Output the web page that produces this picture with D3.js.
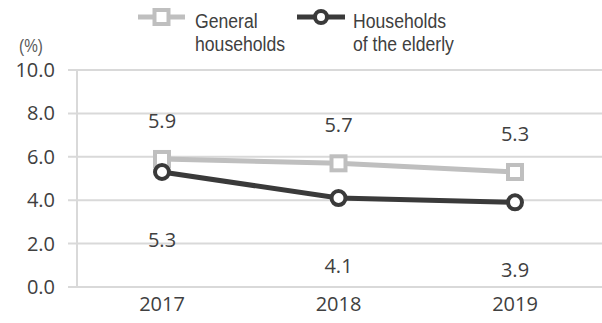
<!DOCTYPE html>
<html>
<head>
<meta charset="utf-8">
<script src="https://cdn.jsdelivr.net/npm/d3@7"></script>
<style>
body{margin:0;background:#fff;}
</style>
</head>
<body>
<svg id="chart" width="602" height="323"></svg>
<script>
var years = ["2017","2018","2019"];
var general = [5.9,5.7,5.3];
var elderly = [5.3,4.1,3.9];
var yTicks = [0,2,4,6,8,10];

var svg = d3.select("#chart");

var x = d3.scalePoint().domain(years).range([162,515]);
var y = d3.scaleLinear().domain([0,10]).range([287,70]);

var numFont = "Open Sans";
var legFont = "'Liberation Sans', sans-serif";

// gridlines
svg.selectAll(".grid")
    .data(yTicks)
    .enter().append("line")
    .attr("x1",68).attr("x2",602)
    .attr("y1",d => y(d)).attr("y2",d => y(d))
    .style("stroke","#d9d9d9").style("stroke-width",2);

svg.append("line")
    .attr("x1",77).attr("x2",77)
    .attr("y1",y(10)).attr("y2",y(0))
    .style("stroke","#d9d9d9").style("stroke-width",2);

// y tick labels
svg.selectAll(".ylab")
    .data(yTicks)
    .enter().append("text")
    .attr("x",55).attr("y",d => y(d)+7)
    .style("text-anchor","end")
    .style("font-family",numFont)
    .style("font-size","20px")
    .style("fill","#404040")
    .text(d => d.toFixed(1));

svg.append("text")
    .attr("transform","translate(31,52) scale(0.85,1)")
    .style("text-anchor","middle")
    .style("font-family",legFont)
    .style("font-size","18px")
    .style("fill","#595959")
    .text("(%)");

// x labels
svg.selectAll(".xlab")
    .data(years)
    .enter().append("text")
    .attr("x",d => x(d)).attr("y",311)
    .style("text-anchor","middle")
    .style("font-family",numFont)
    .style("font-size","20px")
    .style("fill","#404040")
    .text(d => d);

var line = d3.line().x((d,i) => x(years[i])).y(d => y(d));

svg.append("path").datum(general)
    .attr("d",line)
    .style("fill","none").style("stroke","#bfbfbf").style("stroke-width",5);

svg.append("path").datum(elderly)
    .attr("d",line)
    .style("fill","none").style("stroke","#3a3a3a").style("stroke-width",5);

svg.selectAll(".sq")
    .data(general)
    .enter().append("rect")
    .attr("x",(d,i) => x(years[i])-7).attr("y",d => y(d)-7)
    .attr("width",14).attr("height",14)
    .style("fill","#fff").style("stroke","#bfbfbf").style("stroke-width",4);

svg.selectAll(".dot")
    .data(elderly)
    .enter().append("circle")
    .attr("cx",(d,i) => x(years[i])).attr("cy",d => y(d))
    .attr("r",7)
    .style("fill","#fff").style("stroke","#3a3a3a").style("stroke-width",4);

// data labels
svg.selectAll(".glab")
    .data(general)
    .enter().append("text")
    .attr("x",(d,i) => x(years[i])).attr("y",d => y(d)-31)
    .style("text-anchor","middle")
    .style("font-family",numFont)
    .style("font-size","20px")
    .style("fill","#404040")
    .text(d => d.toFixed(1));

svg.selectAll(".elab")
    .data(elderly)
    .enter().append("text")
    .attr("x",(d,i) => x(years[i])).attr("y",d => y(d)+75)
    .style("text-anchor","middle")
    .style("font-family",numFont)
    .style("font-size","20px")
    .style("fill","#404040")
    .text(d => d.toFixed(1));

// legend
var legItems = [
    {lines:["General","households"], x1:138, x2:185, tx:195, color:"#bfbfbf", mark:"square"},
    {lines:["Households","of the elderly"], x1:297, x2:345, tx:353, color:"#3a3a3a", mark:"circle"}
];
var lg = svg.append("g");
legItems.forEach(function(it){
    lg.append("line").attr("x1",it.x1).attr("x2",it.x2).attr("y1",17).attr("y2",17)
        .style("stroke",it.color).style("stroke-width",5);
    var cx = (it.x1+it.x2)/2;
    if (it.mark=="square"){
        lg.append("rect").attr("x",cx-7).attr("y",10).attr("width",14).attr("height",14)
            .style("fill","#fff").style("stroke",it.color).style("stroke-width",4);
    } else {
        lg.append("circle").attr("cx",cx).attr("cy",17).attr("r",6)
            .style("fill","#fff").style("stroke",it.color).style("stroke-width",4);
    }
    it.lines.forEach(function(t,i){
        lg.append("text")
            .attr("transform","translate("+it.tx+","+(28+i*23)+") scale(0.84,1)")
            .style("font-family",legFont).style("font-size","21px").style("fill","#404040")
            .text(t);
    });
});
</script>
</body>
</html>
